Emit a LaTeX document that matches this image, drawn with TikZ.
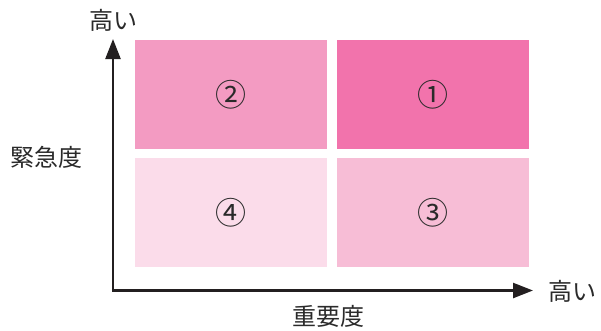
\documentclass[tikz,border=0pt]{standalone}
\usepackage{fontspec}
\newfontfamily\jp{Noto Sans CJK JP}
\usetikzlibrary{arrows.meta}
\definecolor{cA}{HTML}{F273AC}
\definecolor{cB}{HTML}{F39BC2}
\definecolor{cC}{HTML}{F7BDD6}
\definecolor{cD}{HTML}{FBDCEA}
\definecolor{axc}{HTML}{231F20}
\definecolor{txt}{HTML}{2A2A2A}
\tikzset{
  cell/.style={draw=none, minimum width=192pt, minimum height=109pt, inner sep=0pt, anchor=north west, font=\jp\fontsize{31}{31}\selectfont, text=txt},
  lbl/.style={font=\jp\fontsize{24}{24}\selectfont, text=txt, inner sep=0pt},
  axis/.style={draw=axc, line width=2.4pt, -{Triangle[length=20pt,width=15pt]}}
}
\begin{document}
\begin{tikzpicture}[x=1pt,y=-1pt]
\useasboundingbox (0,0) rectangle (601,330);
\node[cell, fill=cB] (c2) at (135,40) {②};
\node[cell, fill=cA] (c1) at (337,40) {①};
\node[cell, fill=cD] (c4) at (135,158) {④};
\node[cell, fill=cC] (c3) at (337,158) {③};
\coordinate (o) at (113,290.5);
\coordinate (ytip) at (113,39);
\coordinate (xtip) at (533,290.5);
\draw[axis, line cap=butt] (113,291.7) -- (ytip);
\draw[axis] (111.8,290.5) -- (xtip);
\node[lbl] (yhigh) at (113,20) {高い};
\node[lbl] (xhigh) at (572,291) {高い};
\node[lbl] (ylab) at (46,157) {緊急度};
\node[lbl] (xlab) at (328,316) {重要度};
\end{tikzpicture}
\end{document}
